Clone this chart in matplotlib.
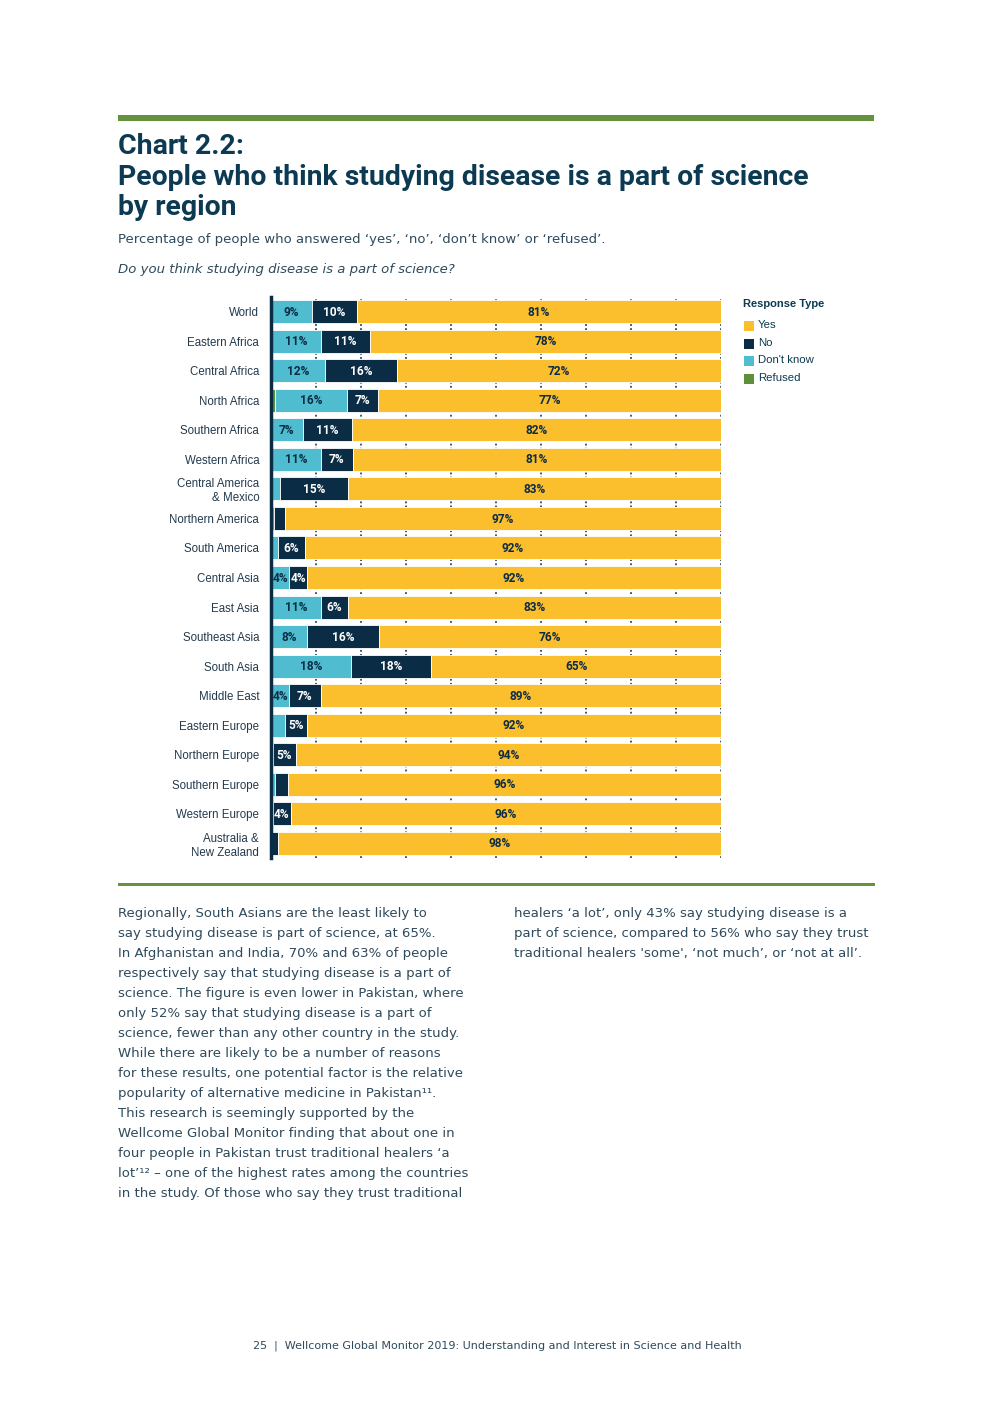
import matplotlib
matplotlib.use("Agg")
import matplotlib.pyplot as plt
from matplotlib.patches import Rectangle
import numpy as np

W, H = 992, 1403

regions = ["World", "Eastern Africa", "Central Africa", "North Africa", "Southern Africa",
           "Western Africa", "Central America\n& Mexico", "Northern America", "South America",
           "Central Asia", "East Asia", "Southeast Asia", "South Asia", "Middle East",
           "Eastern Europe", "Northern Europe", "Southern Europe", "Western Europe",
           "Australia &\nNew Zealand"]
refused = [0, 0, 0, 1, 0, 0, 0, 0, 0, 0, 0, 0, 0, 0, 0, 0, 0, 0, 0]
dont_know = [9, 11, 12, 16, 7, 11, 2, 0.7, 1.5, 4, 11, 8, 18, 4, 3, 0.5, 0.8, 0.4, 0]
no = [10, 11, 16, 7, 11, 7, 15, 2.5, 6, 4, 6, 16, 18, 7, 5, 5, 3, 4, 1.5]
yes = [81, 78, 72, 77, 82, 81, 83, 97, 92, 92, 83, 76, 65, 89, 92, 94, 96, 96, 98]

series_names = ["Yes", "No", "Don't know", "Refused"]

YELLOW = "#FBBE2C"
NAVY = "#0B2C45"
CYAN = "#4FBDCF"
GREEN = "#5E8F3A"
TITLE_C = "#0C3A52"
TEXT_C = "#2E4A5C"
RULE_C = "#66913F"

body_left = [
    "Regionally, South Asians are the least likely to",
    "say studying disease is part of science, at 65%.",
    "In Afghanistan and India, 70% and 63% of people",
    "respectively say that studying disease is a part of",
    "science. The figure is even lower in Pakistan, where",
    "only 52% say that studying disease is a part of",
    "science, fewer than any other country in the study.",
    "While there are likely to be a number of reasons",
    "for these results, one potential factor is the relative",
    "popularity of alternative medicine in Pakistan\u00b9\u00b9.",
    "This research is seemingly supported by the",
    "Wellcome Global Monitor finding that about one in",
    "four people in Pakistan trust traditional healers \u2018a",
    "lot\u2019\u00b9\u00b2 \u2013 one of the highest rates among the countries",
    "in the study. Of those who say they trust traditional",
]
body_right = [
    "healers \u2018a lot\u2019, only 43% say studying disease is a",
    "part of science, compared to 56% who say they trust",
    "traditional healers 'some', \u2018not much\u2019, or \u2018not at all\u2019.",
]


def fx(x):
    return x / W


def fy(y):
    return 1 - y / H


fig = plt.figure(figsize=(W / 100, H / 100), dpi=100)
fig.patch.set_facecolor("white")
r = fig.canvas.get_renderer()


def fit_text(x, y, s, width, size, **kw):
    # shrink/grow font so the line spans the measured width
    t = fig.text(fx(x), fy(y), s, fontsize=size, **kw)
    w = t.get_window_extent(r).width
    t.set_fontsize(size * width / w)
    return t


# rules
fig.add_artist(Rectangle((fx(118), fy(121)), fx(874) - fx(118), 6 / H,
                         transform=fig.transFigure, color=RULE_C, lw=0))
fig.add_artist(Rectangle((fx(118), fy(886)), fx(875) - fx(118), 3 / H,
                         transform=fig.transFigure, color=RULE_C, lw=0))

# title
title_lines = ["Chart 2.2:", "People who think studying disease is a part of science", "by region"]
title_base = [154, 185, 215]
tfam = ["Roboto", "DejaVu Sans"]
tt = [fig.text(fx(118), fy(b), s, fontsize=20, fontweight="bold", family=tfam,
               color=TITLE_C, va="baseline") for s, b in zip(title_lines, title_base)]
wid = tt[1].get_window_extent(r).width
scale = 690 / wid
for t in tt:
    t.set_fontsize(20 * scale)

fit_text(118, 240, "Percentage of people who answered \u2018yes\u2019, \u2018no\u2019, \u2018don\u2019t know\u2019 or \u2018refused\u2019.",
         489, 9.5, family="DejaVu Sans", color=TEXT_C, va="center")
fit_text(118, 269, "Do you think studying disease is a part of science?", 337, 9.5,
         family="DejaVu Sans", style="italic", color=TEXT_C, va="center")

# chart
ax = fig.add_axes([fx(271), fy(858), fx(721) - fx(271), fy(297) - fy(858)])
n = len(regions)
y = np.arange(n)
vals = [np.array(refused, float), np.array(dont_know, float), np.array(no, float), np.array(yes, float)]
cols = [GREEN, CYAN, NAVY, YELLOW]
txt_cols = [NAVY, NAVY, "white", NAVY]
total = sum(vals)
left = np.zeros(n)
for v, c, tc in zip(vals, cols, txt_cols):
    share = v / total * 100
    ax.barh(y, share, left=left, height=0.78, color=c, edgecolor="white", linewidth=0.6, zorder=2)
    for i in range(n):
        if v[i] >= 4:
            ax.text(left[i] + share[i] / 2, i + 0.02, f"{v[i]:.0f}%", ha="center", va="center",
                    color=tc, fontsize=8.6, fontweight="bold", family="Roboto", zorder=4)
    left = left + share

ax.set_xlim(0, 100)
ax.set_ylim(n - 0.5, -0.5)
ax.set_xticks(range(10, 101, 10))
ax.xaxis.grid(True, color=NAVY, linestyle=(0, (1.2, 1.5)), linewidth=1.1)
ax.set_axisbelow(True)
ax.set_yticks(y)
ax.set_yticklabels(regions, fontsize=8.3, family="Liberation Sans", color="#233A4C",
                   multialignment="right", linespacing=1.2)
ax.tick_params(left=False, bottom=False, labelbottom=False, pad=5)
for s in ["top", "right", "bottom"]:
    ax.spines[s].set_visible(False)
ax.spines["left"].set_linewidth(2.5)
ax.spines["left"].set_color(NAVY)
ax.spines["left"].set_zorder(5)

# legend
fig.text(fx(743), fy(304), "Response Type", fontsize=8, fontweight="bold",
         family="Liberation Sans", color=TITLE_C, va="center")
leg_cols = [YELLOW, NAVY, CYAN, GREEN]
for k, (name, c) in enumerate(zip(series_names, leg_cols)):
    yc = 326 + k * 17.6
    fig.add_artist(Rectangle((fx(744), fy(yc + 5)), 10 / W, 10 / H,
                             transform=fig.transFigure, color=c, lw=0))
    fig.text(fx(758), fy(yc - 1), name, fontsize=8.2, family="Liberation Sans",
             color=TITLE_C, va="center")

# body text
for k, line in enumerate(body_left):
    fig.text(fx(118), fy(914 + 20 * k), line, fontsize=9.5, family="DejaVu Sans",
             color=TEXT_C, va="center")
for k, line in enumerate(body_right):
    fig.text(fx(514), fy(914 + 20 * k), line, fontsize=9.5, family="DejaVu Sans",
             color=TEXT_C, va="center")

# footer
fit_text(253, 1346, "25  |  Wellcome Global Monitor 2019: Understanding and Interest in Science and Health",
         487, 8, family="DejaVu Sans", color=TEXT_C, va="center")

fig.savefig("out.png", dpi=100, facecolor="white")
